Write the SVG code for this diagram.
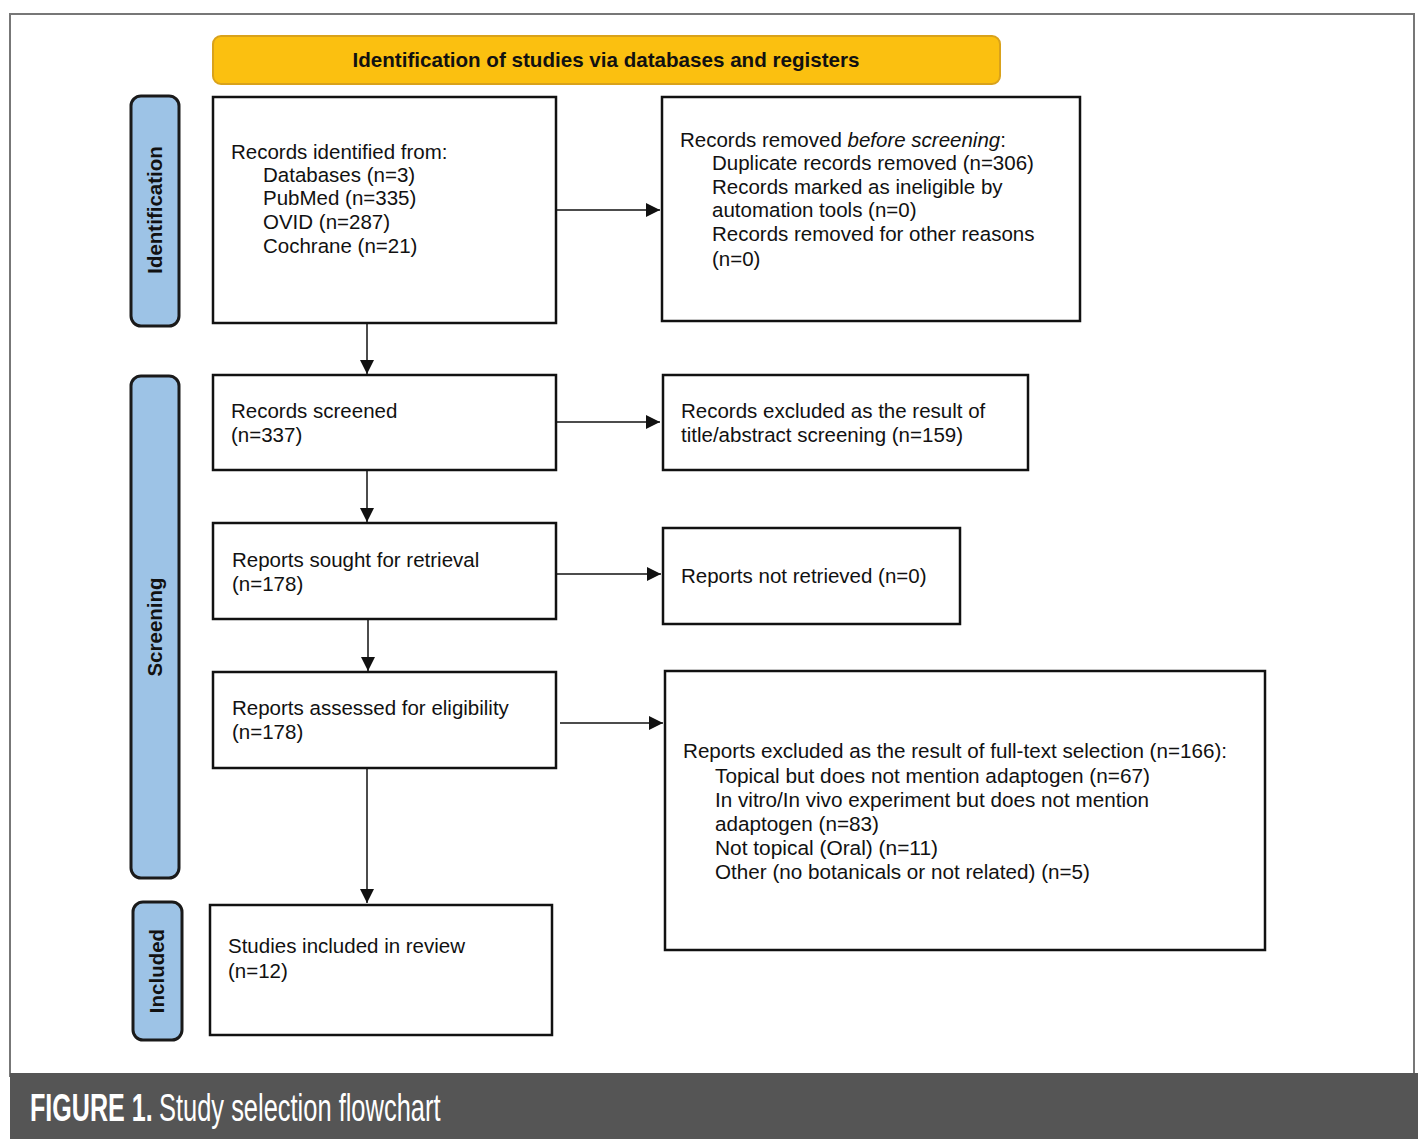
<svg xmlns="http://www.w3.org/2000/svg" width="1422" height="1143" viewBox="0 0 1422 1143">
<style>
.box{fill:#fff;stroke:#111;stroke-width:2.5}
.side{fill:#9DC3E6;stroke:#1a1a1a;stroke-width:3}
.t{font-family:"Liberation Sans",Arial,sans-serif;font-size:20.5px;fill:#111}
.st{font-family:"Liberation Sans",Arial,sans-serif;font-size:20.5px;font-weight:bold;fill:#111}
.cap{font-family:"Liberation Sans",Arial,sans-serif;font-size:38px;fill:#fff}
.c{stroke:#111;stroke-width:1.5;fill:none;marker-end:url(#ah)}
</style>
<defs>
<marker id="ah" viewBox="0 0 10 10" refX="10" refY="5" markerWidth="14" markerHeight="14" markerUnits="userSpaceOnUse" orient="auto">
<path d="M0,0 L10,5 L0,10 z" fill="#111"/>
</marker>
</defs>
<rect x="0" y="0" width="1422" height="1143" fill="#fff"/>
<rect id="frame" x="10" y="14" width="1404" height="1062" fill="#fff" stroke="#777" stroke-width="2"/>
<g id="footer">
<rect x="10" y="1073" width="1408" height="66" fill="#555"/>
<text class="cap" font-weight="bold" transform="translate(30,1121) scale(0.66,1)">FIGURE 1.</text>
<text class="cap" transform="translate(159,1121) scale(0.67,1)">Study selection flowchart</text>
</g>
<g id="header">
<rect x="213" y="36" width="787" height="48" rx="8" fill="#FBC010" stroke="#D9A21B" stroke-width="2"/>
<text x="606" y="67" class="st" text-anchor="middle" textLength="507" lengthAdjust="spacingAndGlyphs">Identification of studies via databases and registers</text>
</g>
<g id="side-identification">
<rect class="side" x="131" y="96" width="48" height="230" rx="10"/>
<text class="st" transform="translate(162,210) rotate(-90)" text-anchor="middle">Identification</text>
</g>
<g id="side-screening">
<rect class="side" x="131" y="376" width="48" height="502" rx="10"/>
<text class="st" transform="translate(162,627) rotate(-90)" text-anchor="middle">Screening</text>
</g>
<g id="side-included">
<rect class="side" x="133" y="902" width="49" height="138" rx="10"/>
<text class="st" transform="translate(164,971) rotate(-90)" text-anchor="middle">Included</text>
</g>
<g id="connectors">
<line class="c" x1="556" y1="210" x2="660" y2="210"/>
<line class="c" x1="367" y1="323" x2="367" y2="374"/>
<line class="c" x1="556" y1="422" x2="660" y2="422"/>
<line class="c" x1="367" y1="470" x2="367" y2="522"/>
<line class="c" x1="556" y1="574" x2="661" y2="574"/>
<line class="c" x1="368" y1="619" x2="368" y2="671"/>
<line class="c" x1="560" y1="723" x2="663" y2="723"/>
<line class="c" x1="367" y1="768" x2="367" y2="903"/>
</g>
<g id="records-identified">
<rect class="box" x="213" y="97" width="343" height="226"/>
<text class="t" x="231" y="159">Records identified from:</text>
<text class="t" x="263" y="182">Databases (n=3)</text>
<text class="t" x="263" y="205">PubMed (n=335)</text>
<text class="t" x="263" y="229">OVID (n=287)</text>
<text class="t" x="263" y="253">Cochrane (n=21)</text>
</g>
<g id="records-removed">
<rect class="box" x="662" y="97" width="418" height="224"/>
<text class="t" x="680" y="147">Records removed <tspan font-style="italic">before screening</tspan>:</text>
<text class="t" x="712" y="170">Duplicate records removed (n=306)</text>
<text class="t" x="712" y="194">Records marked as ineligible by</text>
<text class="t" x="712" y="217">automation tools (n=0)</text>
<text class="t" x="712" y="241">Records removed for other reasons</text>
<text class="t" x="712" y="266">(n=0)</text>
</g>
<g id="records-screened">
<rect class="box" x="213" y="375" width="343" height="95"/>
<text class="t" x="231" y="418">Records screened</text>
<text class="t" x="231" y="442">(n=337)</text>
</g>
<g id="records-excluded">
<rect class="box" x="663" y="375" width="365" height="95"/>
<text class="t" x="681" y="418">Records excluded as the result of</text>
<text class="t" x="681" y="442">title/abstract screening (n=159)</text>
</g>
<g id="reports-sought">
<rect class="box" x="213" y="523" width="343" height="96"/>
<text class="t" x="232" y="567">Reports sought for retrieval</text>
<text class="t" x="232" y="591">(n=178)</text>
</g>
<g id="reports-not-retrieved">
<rect class="box" x="663" y="528" width="297" height="96"/>
<text class="t" x="681" y="583">Reports not retrieved (n=0)</text>
</g>
<g id="reports-assessed">
<rect class="box" x="213" y="672" width="343" height="96"/>
<text class="t" x="232" y="715">Reports assessed for eligibility</text>
<text class="t" x="232" y="739">(n=178)</text>
</g>
<g id="reports-excluded">
<rect class="box" x="665" y="671" width="600" height="279"/>
<text class="t" x="683" y="758" textLength="544" lengthAdjust="spacingAndGlyphs">Reports excluded as the result of full-text selection (n=166):</text>
<text class="t" x="715" y="783" textLength="435" lengthAdjust="spacingAndGlyphs">Topical but does not mention adaptogen (n=67)</text>
<text class="t" x="715" y="807" textLength="434" lengthAdjust="spacingAndGlyphs">In vitro/In vivo experiment but does not mention</text>
<text class="t" x="715" y="831" textLength="164" lengthAdjust="spacingAndGlyphs">adaptogen (n=83)</text>
<text class="t" x="715" y="855" textLength="223" lengthAdjust="spacingAndGlyphs">Not topical (Oral) (n=11)</text>
<text class="t" x="715" y="879" textLength="375" lengthAdjust="spacingAndGlyphs">Other (no botanicals or not related) (n=5)</text>
</g>
<g id="studies-included">
<rect class="box" x="210" y="905" width="342" height="130"/>
<text class="t" x="228" y="953">Studies included in review</text>
<text class="t" x="228" y="978">(n=12)</text>
</g>
</svg>
